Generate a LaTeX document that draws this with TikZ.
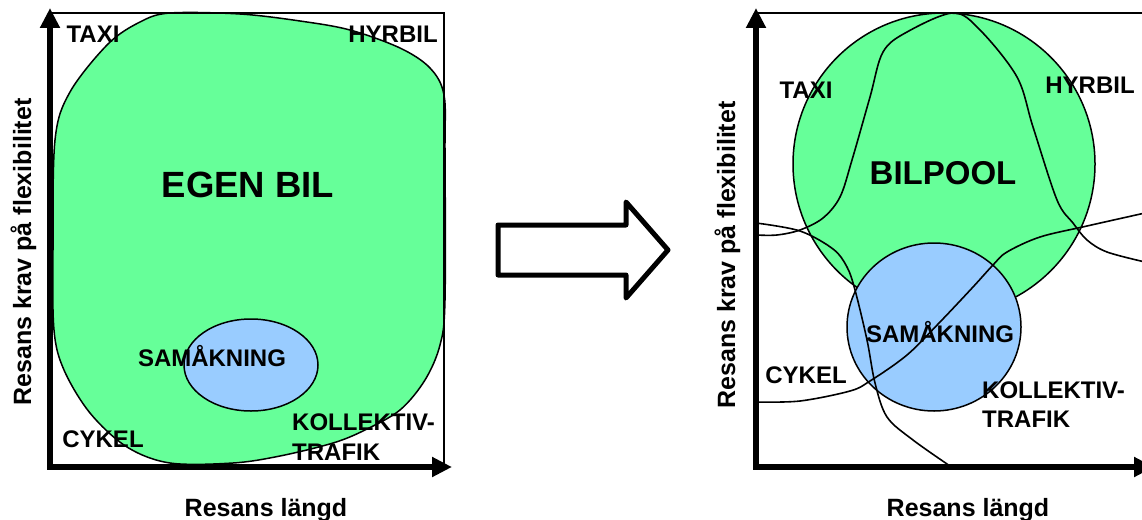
\documentclass[tikz,border=0pt]{standalone}
\usepackage{fontspec}
\setmainfont{Liberation Sans}
\usetikzlibrary{arrows.meta}
\definecolor{poolgreen}{RGB}{102,255,153}
\definecolor{shareblue}{RGB}{153,204,255}
\begin{document}
\begin{tikzpicture}[x=1pt,y=-1pt,
  lbl/.style={font=\bfseries\fontsize{24}{30}\selectfont, inner sep=0pt},
  biglbl/.style={font=\bfseries\fontsize{36.5}{40}\selectfont, inner sep=0pt},
  axislbl/.style={font=\bfseries\fontsize{25}{30}\selectfont, inner sep=0pt},
  axisline/.style={line width=5.5pt, line cap=rect, -{Triangle[length=20pt,width=19pt]}},
  frameline/.style={line width=1.8pt},
  edge/.style={line width=1.5pt, line join=round},
  border/.style={line width=1.6pt, smooth, tension=0.55}
]
\useasboundingbox (0,0) rectangle (1142,519);
\clip (0,0) rectangle (1142,519);

% ---------- left chart: own car ----------
\def\blobpath{plot[smooth cycle, tension=0.55] coordinates {
  (170,13) (240,14) (300,21) (350,30) (400,48) (430,68) (444,95) (445,150)
  (445,300) (440,345) (425,380) (400,410) (365,430) (333,443) (280,456)
  (233,463) (170,463) (127,447) (90,413) (64,370) (54,330) (53,250)
  (55,140) (70,92) (108,44) (140,22)}}
\draw[edge, fill=poolgreen] \blobpath;
\draw[edge, fill=shareblue] (251,365) ellipse [x radius=67, y radius=46];

\coordinate (LO) at (50,467);
\coordinate (LYtip) at (50,8);
\coordinate (LXtip) at (452,467);
\coordinate (LTL) at (50,13);
\coordinate (LTR) at (444,13);
\coordinate (LBR) at (444,467);
\draw[frameline] (LTL) -- (LTR) -- (LBR);
\draw[axisline] (LO) -- (LYtip);
\draw[axisline] (LO) -- (LXtip);

\node[lbl, anchor=base] (taxiL) at (93,42) {TAXI};
\node[lbl, anchor=base] (hyrbilL) at (393,42) {HYRBIL};
\node[biglbl, anchor=base] (egenbil) at (248,197) {EGEN BIL};
\node[lbl, anchor=base] (samL) at (212,366) {SAMÅKNING};
\node[lbl, anchor=base] (cykelL) at (103,447) {CYKEL};
\node[lbl, anchor=base west, align=left] (kollL) at (292,460) {KOLLEKTIV-\\TRAFIK};
\node[axislbl, anchor=base] (xlabL) at (266,516) {Resans längd};
\node[axislbl, anchor=base, rotate=90] (ylabL) at (31,252) {Resans krav på flexibilitet};

% ---------- hollow arrow between the charts ----------
\draw[line width=5pt, line join=round]
  (498,225) -- (626,225) -- (626,202) -- (668,250) -- (626,298) -- (626,275) -- (498,275) -- cycle;

% ---------- right chart: car pool ----------
\draw[edge, fill=poolgreen] (944,164) circle [radius=151];
\draw[edge, fill=shareblue] (934,327) ellipse [x radius=87, y radius=84];

\draw[border] plot coordinates {
  (756,235) (777,235) (800,230) (823,218) (840,197) (852,160) (870,97)
  (883,52) (907,32) (953,13) (980,30) (1017,77) (1033,127) (1057,200)
  (1073,223) (1087,240) (1107,252) (1145,262)};
\draw[border] plot coordinates {
  (756,223) (800,231) (833,249) (847,267) (855,290) (867,340) (875,383)
  (887,417) (913,440) (950,466)};
\draw[border] plot coordinates {
  (756,402) (800,401) (850,391) (870,381) (907,355) (940,322) (973,287)
  (993,265) (1007,252) (1040,237) (1087,226) (1145,213)};

\coordinate (RO) at (756,467);
\coordinate (RYtip) at (756,8);
\coordinate (RXtip) at (1154,467);
\coordinate (RTL) at (756,13);
\coordinate (RTR) at (1145,13);
\draw[frameline] (RTL) -- (RTR);
\draw[axisline] (RO) -- (RYtip);
\draw[axisline] (RO) -- (RXtip);

\node[lbl, anchor=base] (taxiR) at (806,98) {TAXI};
\node[lbl, anchor=base] (hyrbilR) at (1090,93) {HYRBIL};
\node[font=\bfseries\fontsize{33}{40}\selectfont, inner sep=0pt, anchor=base] (bilpool) at (943,184) {BILPOOL};
\node[lbl, anchor=base] (samR) at (940,342) {SAMÅKNING};
\node[lbl, anchor=base] (cykelR) at (806,383) {CYKEL};
\node[lbl, anchor=base west, align=left, font=\bfseries\fontsize{24}{29}\selectfont] (kollR) at (982,427) {KOLLEKTIV-\\TRAFIK};
\node[axislbl, anchor=base] (xlabR) at (968,516) {Resans längd};
\node[axislbl, anchor=base, rotate=90] (ylabR) at (735,255) {Resans krav på flexibilitet};
\end{tikzpicture}
\end{document}
